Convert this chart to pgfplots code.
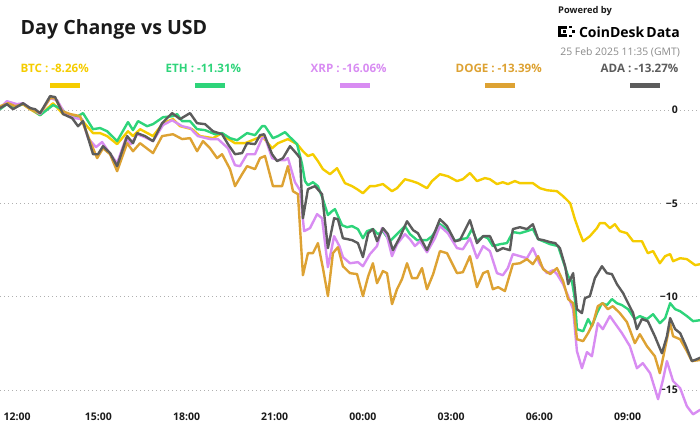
\documentclass[border=0pt]{standalone}
\usepackage{pgfplots}
\pgfplotsset{compat=1.18}
\usepackage{fontspec}
\setmainfont{Open Sans}
\definecolor{btc}{HTML}{F5CC00}
\definecolor{eth}{HTML}{2ED47A}
\definecolor{xrp}{HTML}{D88CF2}
\definecolor{doge}{HTML}{DDA233}
\definecolor{ada}{HTML}{5C5C5C}
\definecolor{gridc}{HTML}{B0B0B0}
\definecolor{titlec}{HTML}{1A1A1A}
\definecolor{datec}{HTML}{8A8A8A}
\begin{document}
\begin{tikzpicture}[x=1pt,y=1pt]
\path[use as bounding box] (0,0) rectangle (700,430);
% header
\node[anchor=base west, inner sep=0, text=titlec, font=\bfseries\fontsize{19.6}{22}\selectfont] at (20.5,395.7) {Day Change vs USD};
\node[anchor=base west, inner sep=0, text=btc, font=\bfseries\fontsize{11.6}{13}\selectfont] at (20.5,357.3) {BTC : -8.26\%};
\node[anchor=base west, inner sep=0, text=eth, font=\bfseries\fontsize{11.6}{13}\selectfont] at (165.5,357.3) {ETH : -11.31\%};
\node[anchor=base west, inner sep=0, text=xrp, font=\bfseries\fontsize{11.6}{13}\selectfont] at (310.5,357.3) {XRP : -16.06\%};
\node[anchor=base west, inner sep=0, text=doge, font=\bfseries\fontsize{11.6}{13}\selectfont] at (455.5,357.3) {DOGE : -13.39\%};
\node[anchor=base west, inner sep=0, text=ada, font=\bfseries\fontsize{11.6}{13}\selectfont] at (600.5,357.3) {ADA : -13.27\%};
\fill[btc]  (50,341.7) rectangle (80,346.7);
\fill[eth]  (195,341.7) rectangle (225,346.7);
\fill[xrp]  (340,341.7) rectangle (370,346.7);
\fill[doge] (485,341.7) rectangle (515,346.7);
\fill[ada]  (630,341.7) rectangle (660,346.7);
\node[anchor=base west, inner sep=0, text=titlec, font=\bfseries\fontsize{9.3}{11}\selectfont] at (558,416) {Powered by};
\node[anchor=base east, inner sep=0, text=black, font=\bfseries\fontsize{14}{16}\selectfont] at (680,392.7) {CoinDesk\hspace{0.15em}Data};
\fill[black] (558,392.7) rectangle (561,404);
\fill[black] (558,401) rectangle (567,404);
\fill[black] (558,392.7) rectangle (567,395.7);
\fill[black] (563,397) rectangle (565.5,399.5);
\fill[black] (569,401.5) rectangle (571.5,404);
\fill[black] (569,392.7) rectangle (571.5,395.2);
\fill[black] (572,397) rectangle (574.5,399.5);
\node[anchor=base east, inner sep=0, text=datec, font=\fontsize{10.4}{12}\selectfont] at (680,374) {25 Feb 2025 11:35 (GMT)};
\begin{axis}[
  at={(0,4.4)}, anchor=south west,
  scale only axis, width=700pt, height=336.1pt,
  xmin=-0.344, xmax=23.466, ymin=-16.7, ymax=1.3,
  axis line style={draw=none}, tick style={draw=none},
  major tick length=0pt,
  ytick={-15,-10,-5,0}, yticklabels={−15,−10,−5,0},
  xtick={3,6,9,12,15,18,21},
  xticklabels={15:00,18:00,21:00,00:00,03:00,06:00,09:00},
  extra x ticks={0}, extra x tick labels={12:00},
  extra x tick style={xticklabel style={anchor=base west, xshift=-10.1pt}},
  ymajorgrids, grid style={gridc, line width=0.7pt, dash pattern=on 0.7pt off 3.3pt},
  yticklabel pos=right,
  yticklabel style={anchor=east, xshift=-20pt, font=\bfseries\fontsize{10.5}{12}\selectfont, text=titlec, fill=white, inner sep=2pt},
  xticklabel style={anchor=base, yshift=0.8pt, font=\bfseries\fontsize{10.5}{12}\selectfont, text=titlec},
  every axis plot/.append style={line width=2.4pt, line join=round, line cap=round, mark=none},
  clip=true,
]
% BTC
\addplot[btc] coordinates {(-0.34,0.15)(-0.07,0.36)(0.17,0.20)(0.44,0.31)(0.68,0.04)(1.02,-0.28)(1.46,0.36)(1.80,-0.22)(2.11,-0.33)(2.38,-0.44)(2.82,-1.24)(3.06,-1.24)(3.30,-1.40)(3.64,-1.83)(4.01,-1.14)(4.18,-1.40)(4.42,-1.03)(4.86,-1.40)(5.20,-0.71)(5.54,-0.49)(5.78,-0.87)(6.19,-1.03)(6.46,-1.40)(6.90,-1.51)(7.21,-1.24)(7.38,-1.51)(7.65,-1.78)(7.99,-1.78)(8.33,-1.56)(8.57,-1.40)(8.91,-2.05)(9.11,-1.78)(9.45,-1.56)(9.76,-1.83)(9.96,-2.21)(10.13,-2.47)(10.30,-2.37)(10.47,-2.74)(10.64,-3.17)(10.88,-3.44)(11.12,-3.12)(11.39,-3.92)(11.63,-4.08)(11.80,-4.24)(12.00,-4.46)(12.24,-4.08)(12.41,-4.08)(12.68,-3.97)(12.99,-4.35)(13.16,-4.19)(13.43,-3.71)(13.67,-3.81)(13.87,-3.92)(14.18,-4.19)(14.35,-3.81)(14.62,-3.44)(14.89,-3.55)(15.20,-3.81)(15.40,-3.71)(15.64,-3.38)(15.88,-3.81)(16.15,-3.65)(16.32,-3.71)(16.56,-3.97)(16.76,-3.87)(16.93,-3.97)(17.17,-3.81)(17.34,-3.92)(17.58,-3.92)(17.78,-3.92)(18.02,-4.19)(18.26,-4.30)(18.60,-4.35)(18.81,-4.62)(19.05,-4.99)(19.21,-5.85)(19.38,-6.60)(19.49,-7.03)(19.72,-6.76)(19.96,-6.33)(20.06,-6.06)(20.23,-6.06)(20.40,-6.33)(20.57,-6.12)(20.74,-6.49)(20.98,-6.60)(21.19,-7.03)(21.49,-7.03)(21.69,-7.67)(21.87,-7.56)(22.10,-8.21)(22.28,-7.83)(22.45,-7.72)(22.55,-8.10)(22.79,-7.94)(23.02,-7.99)(23.30,-8.31)(23.47,-8.26)};
% ETH
\addplot[eth] coordinates {(-0.34,0.04)(-0.11,0.31)(0.17,0.15)(0.44,0.31)(0.68,0.10)(1.02,-0.28)(1.46,0.26)(1.77,0.04)(1.94,-0.28)(2.20,-0.44)(2.48,-0.17)(2.82,-1.03)(3.06,-0.97)(3.30,-1.14)(3.64,-1.67)(4.01,-0.65)(4.18,-1.08)(4.35,-0.60)(4.66,-0.87)(4.86,-0.76)(5.20,-0.39)(5.54,-0.33)(5.68,-0.22)(5.85,-0.60)(6.12,-0.60)(6.36,-1.03)(6.63,-1.08)(6.97,-1.30)(7.21,-1.24)(7.48,-1.51)(7.72,-1.62)(8.06,-1.24)(8.33,-1.35)(8.57,-0.87)(8.67,-0.87)(8.94,-1.51)(9.11,-1.40)(9.35,-1.19)(9.52,-1.46)(9.76,-1.83)(9.93,-2.90)(10.03,-3.81)(10.13,-4.03)(10.30,-3.87)(10.47,-4.08)(10.64,-4.78)(10.81,-5.63)(10.95,-5.42)(11.05,-5.31)(11.29,-6.17)(11.46,-6.28)(11.63,-6.22)(11.83,-6.38)(12.00,-6.87)(12.14,-6.49)(12.34,-6.38)(12.51,-6.65)(12.68,-6.49)(12.92,-7.03)(13.16,-6.65)(13.43,-6.22)(13.60,-6.65)(13.84,-6.97)(14.18,-6.97)(14.35,-6.76)(14.62,-6.12)(14.86,-6.38)(15.13,-7.03)(15.30,-6.92)(15.54,-6.87)(15.71,-6.38)(15.88,-7.03)(16.09,-6.76)(16.25,-6.87)(16.42,-7.29)(16.66,-7.19)(16.90,-7.13)(17.10,-6.54)(17.34,-6.60)(17.58,-6.49)(17.78,-6.38)(17.96,-6.92)(18.13,-7.03)(18.37,-7.19)(18.64,-7.29)(18.81,-8.10)(18.98,-8.90)(19.11,-9.17)(19.21,-10.13)(19.28,-11.74)(19.49,-11.85)(19.66,-11.20)(19.79,-11.58)(19.96,-10.88)(20.13,-10.35)(20.30,-10.45)(20.47,-10.13)(20.64,-10.35)(20.81,-10.45)(21.02,-10.67)(21.25,-11.20)(21.42,-11.04)(21.66,-11.20)(21.87,-10.94)(22.10,-11.42)(22.28,-11.15)(22.45,-10.35)(22.62,-10.67)(22.79,-10.78)(23.02,-11.04)(23.23,-11.31)(23.47,-11.26)};
% XRP
\addplot[xrp] coordinates {(-0.34,0.10)(-0.11,0.47)(0.23,0.31)(0.44,0.36)(0.68,0.10)(1.02,-0.22)(1.36,0.63)(1.60,0.52)(1.87,-0.22)(2.20,-0.44)(2.45,-0.49)(2.65,-1.51)(2.92,-1.99)(3.13,-1.72)(3.36,-2.26)(3.64,-2.85)(3.94,-1.51)(4.11,-1.83)(4.32,-1.30)(4.59,-1.46)(4.86,-1.67)(5.20,-0.81)(5.51,-0.55)(5.85,-0.87)(6.12,-0.97)(6.39,-1.40)(6.80,-1.56)(7.07,-1.56)(7.41,-2.05)(7.65,-2.96)(7.82,-3.01)(8.06,-2.37)(8.33,-2.37)(8.57,-1.51)(8.67,-1.46)(8.91,-2.58)(9.11,-2.69)(9.35,-2.69)(9.45,-2.58)(9.69,-3.87)(9.86,-4.30)(10.00,-6.49)(10.20,-6.33)(10.44,-5.58)(10.61,-5.80)(10.81,-8.42)(11.02,-6.76)(11.20,-7.29)(11.32,-7.88)(11.56,-8.21)(11.83,-8.15)(12.00,-8.37)(12.24,-7.72)(12.48,-7.29)(12.65,-6.33)(12.82,-6.76)(12.99,-7.83)(13.16,-7.19)(13.43,-6.65)(13.60,-6.92)(13.77,-7.29)(13.94,-7.03)(14.18,-7.62)(14.45,-6.87)(14.62,-6.22)(14.89,-6.60)(15.20,-7.40)(15.40,-7.46)(15.64,-6.87)(15.88,-7.94)(16.09,-7.29)(16.32,-7.56)(16.56,-8.74)(16.76,-8.85)(16.93,-8.47)(17.10,-7.72)(17.34,-7.83)(17.58,-7.94)(17.78,-7.40)(18.02,-8.26)(18.26,-8.74)(18.47,-8.58)(18.60,-8.79)(18.81,-9.33)(18.98,-9.97)(19.15,-10.67)(19.28,-12.92)(19.45,-13.83)(19.62,-12.97)(19.79,-13.19)(19.99,-11.42)(20.16,-11.74)(20.40,-11.04)(20.57,-11.42)(20.81,-11.95)(21.08,-12.65)(21.32,-13.83)(21.52,-13.56)(21.77,-14.10)(22.04,-15.49)(22.21,-14.42)(22.34,-13.45)(22.55,-14.52)(22.79,-14.90)(23.02,-15.87)(23.23,-16.30)(23.47,-16.06)};
% DOGE
\addplot[doge] coordinates {(-0.34,0.20)(-0.07,0.36)(0.17,0.20)(0.44,0.31)(0.68,0.04)(1.02,-0.17)(1.36,0.63)(1.53,0.63)(1.77,-0.06)(2.04,-0.22)(2.38,-0.33)(2.72,-1.67)(2.96,-2.58)(3.16,-2.05)(3.40,-2.37)(3.64,-3.28)(3.98,-1.78)(4.18,-2.21)(4.42,-1.78)(4.86,-2.31)(5.17,-1.40)(5.54,-1.30)(5.85,-1.56)(6.12,-1.51)(6.36,-2.21)(6.56,-1.67)(6.80,-2.05)(7.04,-2.58)(7.21,-2.37)(7.48,-3.17)(7.65,-4.08)(7.89,-3.44)(8.06,-3.01)(8.33,-3.17)(8.50,-2.58)(8.67,-2.47)(8.94,-4.08)(9.25,-4.08)(9.45,-3.01)(9.62,-4.35)(9.79,-4.51)(9.96,-8.85)(10.13,-7.67)(10.30,-7.67)(10.47,-7.13)(10.64,-8.47)(10.81,-9.97)(10.98,-7.67)(11.15,-7.35)(11.32,-8.37)(11.56,-8.74)(11.80,-8.79)(12.00,-9.97)(12.18,-8.90)(12.34,-8.21)(12.48,-9.28)(12.68,-8.63)(12.82,-8.74)(12.99,-10.40)(13.16,-9.60)(13.33,-9.06)(13.50,-8.21)(13.67,-9.01)(13.84,-9.01)(14.01,-8.47)(14.18,-9.60)(14.39,-8.79)(14.62,-7.56)(14.86,-7.67)(15.20,-8.74)(15.40,-8.69)(15.64,-7.83)(15.88,-9.49)(16.09,-8.74)(16.25,-8.63)(16.42,-9.60)(16.60,-9.49)(16.83,-9.70)(17.10,-8.26)(17.34,-8.21)(17.58,-7.99)(17.78,-8.26)(17.96,-7.83)(18.13,-8.53)(18.37,-8.79)(18.60,-8.47)(18.81,-9.17)(18.98,-10.13)(19.15,-10.35)(19.28,-12.28)(19.49,-12.38)(19.66,-11.95)(19.83,-11.42)(19.99,-10.51)(20.16,-10.35)(20.33,-10.67)(20.50,-10.51)(20.74,-10.88)(20.98,-11.36)(21.25,-12.49)(21.42,-12.01)(21.66,-12.65)(21.93,-13.19)(22.10,-14.10)(22.34,-12.28)(22.45,-11.42)(22.55,-12.12)(22.79,-12.28)(23.02,-12.92)(23.19,-13.45)(23.47,-13.39)};
% ADA
\addplot[ada] coordinates {(-0.34,0.10)(-0.11,0.31)(0.10,0.04)(0.44,0.36)(0.68,0.10)(0.85,0.04)(1.02,-0.17)(1.36,0.74)(1.53,0.69)(1.80,-0.22)(2.11,-0.44)(2.31,-0.87)(2.48,-0.60)(2.82,-2.37)(2.99,-2.37)(3.16,-1.94)(3.40,-2.31)(3.64,-3.01)(3.98,-1.40)(4.18,-1.78)(4.32,-1.24)(4.59,-1.40)(4.86,-1.67)(5.17,-0.71)(5.51,-0.17)(5.78,-0.49)(6.12,-0.17)(6.36,-0.71)(6.63,-0.76)(6.90,-1.14)(7.21,-1.30)(7.41,-1.83)(7.65,-2.37)(7.89,-2.31)(8.06,-1.78)(8.33,-1.83)(8.50,-1.35)(8.64,-1.30)(8.91,-2.37)(9.08,-2.74)(9.28,-2.58)(9.52,-1.94)(9.76,-2.37)(9.86,-2.58)(9.96,-5.80)(10.13,-4.24)(10.37,-4.08)(10.61,-4.51)(10.81,-7.40)(11.02,-5.80)(11.15,-5.85)(11.32,-6.87)(11.63,-6.97)(11.83,-7.13)(12.00,-7.88)(12.18,-6.60)(12.34,-6.38)(12.48,-7.03)(12.68,-6.33)(12.85,-6.65)(13.02,-7.51)(13.26,-6.81)(13.50,-5.96)(13.71,-6.44)(13.87,-6.60)(14.18,-7.51)(14.39,-6.76)(14.62,-5.85)(14.86,-6.22)(15.13,-7.03)(15.30,-6.97)(15.64,-5.90)(15.88,-7.13)(16.09,-6.76)(16.32,-6.76)(16.56,-7.56)(16.76,-7.40)(17.00,-7.51)(17.10,-6.38)(17.34,-6.28)(17.58,-6.38)(17.78,-6.12)(17.96,-6.92)(18.13,-6.97)(18.37,-7.08)(18.54,-7.13)(18.70,-7.40)(18.88,-8.37)(18.98,-9.33)(19.15,-8.74)(19.28,-10.67)(19.45,-10.88)(19.55,-10.08)(19.72,-9.97)(19.89,-9.01)(20.13,-8.37)(20.30,-8.74)(20.47,-8.79)(20.64,-9.33)(20.85,-9.81)(21.02,-10.35)(21.19,-10.88)(21.32,-11.74)(21.49,-11.20)(21.69,-11.31)(21.93,-12.12)(22.17,-13.03)(22.34,-12.12)(22.45,-11.15)(22.62,-11.74)(22.79,-11.95)(22.99,-12.65)(23.19,-13.45)(23.36,-13.35)(23.47,-13.27)};
\end{axis}
\end{tikzpicture}
\end{document}
